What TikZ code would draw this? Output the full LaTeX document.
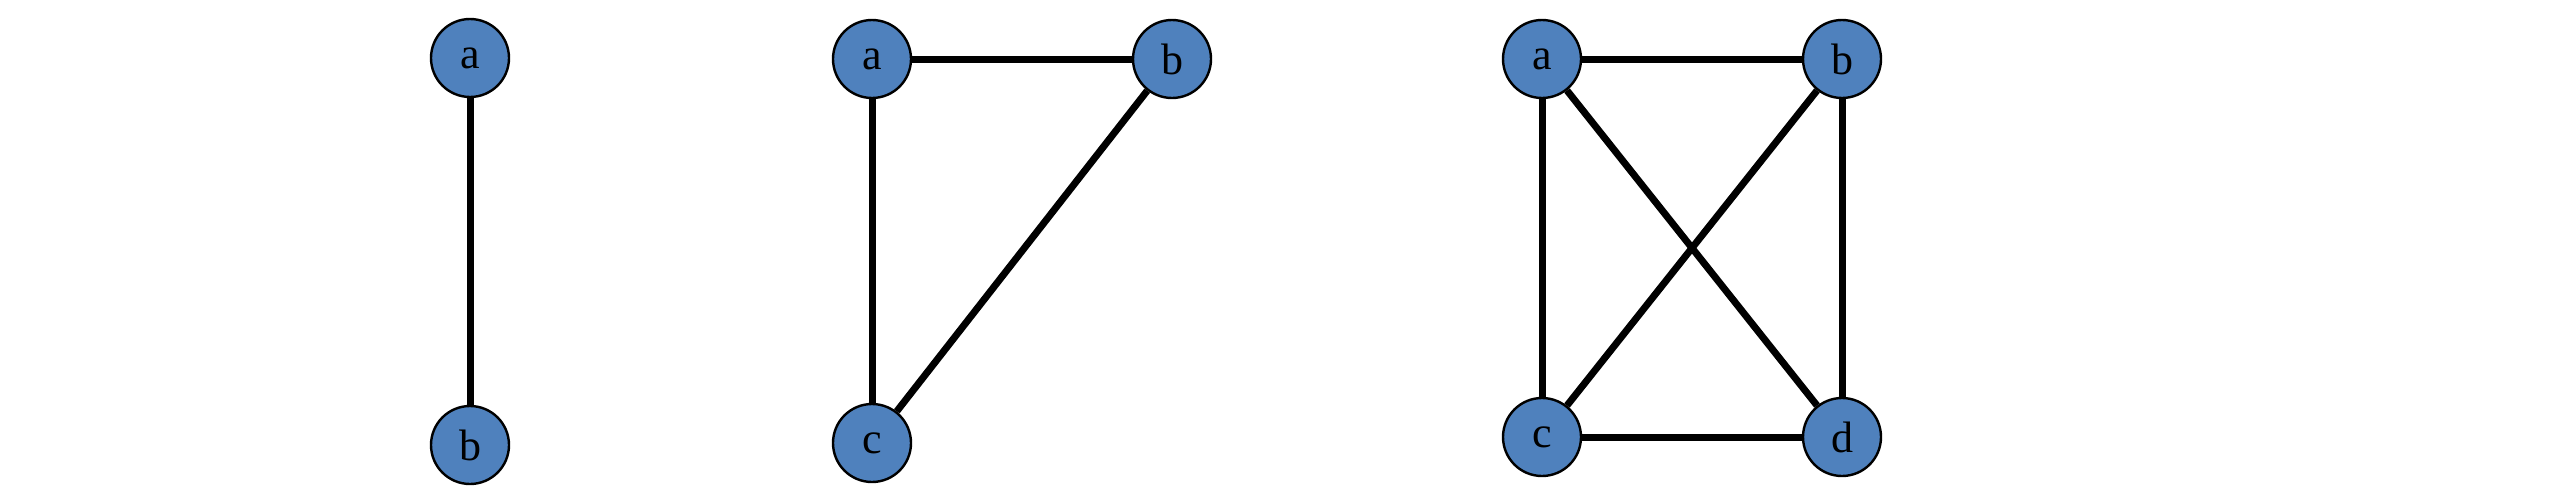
\documentclass[tikz,border=0pt]{standalone}
\usepackage{fontspec}
\setmainfont{Liberation Serif}
\definecolor{nodeblue}{RGB}{79,129,189}
\begin{document}
\begin{tikzpicture}[x=1pt,y=-1pt,
  vert/.style={circle,draw=black,line width=2.4pt,fill=nodeblue,minimum size=78pt,inner sep=0pt,font=\fontsize{44}{44}\selectfont},
  edge/.style={line width=7pt,black}]
\useasboundingbox (0,0) rectangle (2568,490);
% graph 1
\node[vert] (g1a) at (470,58) {a};
\node[vert] (g1b) at (470,445) {b};
\draw[edge] (g1a) -- (g1b);
% graph 2
\node[vert] (g2a) at (872,59) {a};
\node[vert] (g2b) at (1172,59) {b};
\node[vert] (g2c) at (872,443) {c};
\draw[edge] (g2a) -- (g2b);
\draw[edge] (g2a) -- (g2c);
\draw[edge] (g2b) -- (g2c);
% graph 3
\node[vert] (g3a) at (1542,59) {a};
\node[vert] (g3b) at (1842,59) {b};
\node[vert] (g3c) at (1542,437) {c};
\node[vert] (g3d) at (1842,437) {d};
\draw[edge] (g3a) -- (g3b);
\draw[edge] (g3a) -- (g3c);
\draw[edge] (g3b) -- (g3d);
\draw[edge] (g3c) -- (g3d);
\draw[edge] (g3a) -- (g3d);
\draw[edge] (g3b) -- (g3c);
\end{tikzpicture}
\end{document}
